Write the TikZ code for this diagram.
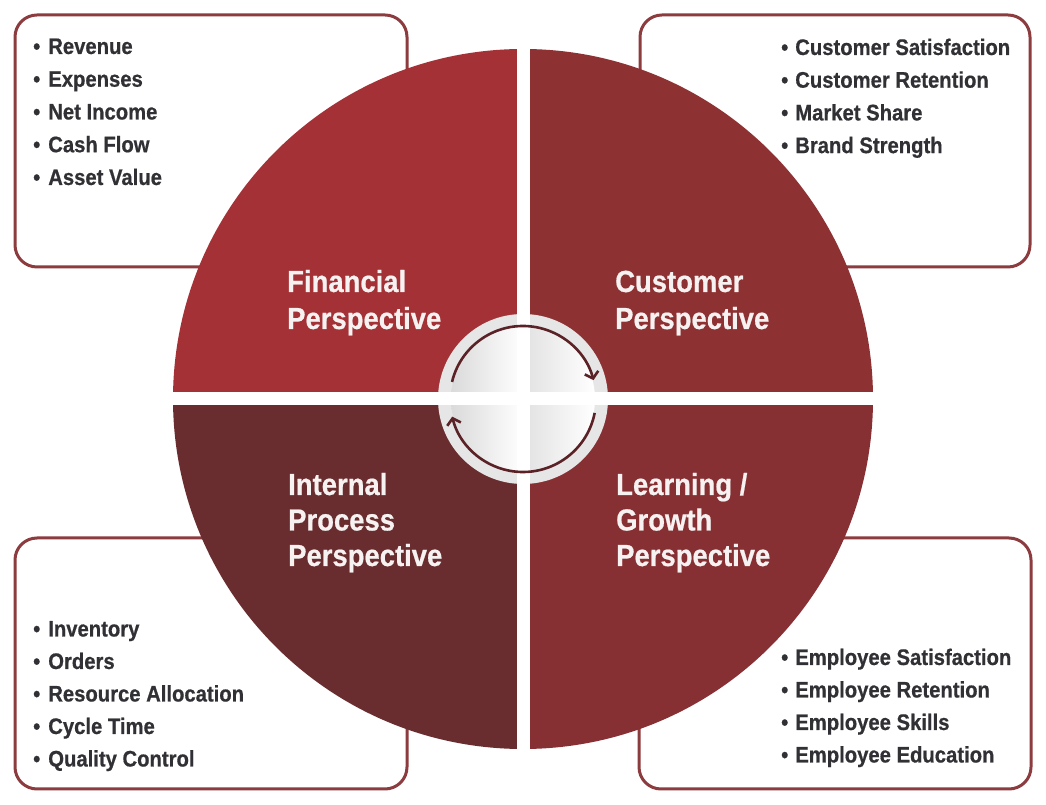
\documentclass[tikz,border=0pt]{standalone}
\usepackage{fontspec}
\newfontfamily\cf[FakeStretch=0.9,FakeBold=0.6]{Liberation Sans}
\usetikzlibrary{arrows.meta,calc}
\definecolor{qtl}{HTML}{A33136}
\definecolor{qtr}{HTML}{8E3133}
\definecolor{qbl}{HTML}{6A2D2F}
\definecolor{qbr}{HTML}{873033}
\definecolor{boxline}{HTML}{8C3B3E}
\definecolor{txt}{HTML}{303035}
\definecolor{arrowc}{HTML}{5A2226}
\definecolor{ring}{HTML}{E6E6E6}
\definecolor{discgrey}{HTML}{DADADA}
\definecolor{titlec}{HTML}{F7F2F2}
\begin{document}
\begin{tikzpicture}[x=1pt,y=1pt,
  infobox/.style={draw=boxline,line width=3pt,fill=white,rounded corners=22pt,inner sep=0pt},
  item/.style={anchor=base west,inner sep=0pt,text=txt,font=\cf\bfseries\fontsize{22.5}{27}\selectfont},
  ttl/.style={anchor=base west,inner sep=0pt,text=titlec,font=\cf\bfseries\fontsize{30.5}{36}\selectfont},
  cyc/.style={draw=arrowc,line width=2.6pt,-{Straight Barb[length=6pt,width=14pt]}}]
\useasboundingbox (0,0) rectangle (1046,805);
\fill[white] (0,0) rectangle (1046,805);
% boxes
\node[infobox,minimum width=392pt,minimum height=252pt] (bfin) at (211,664) {};
\node[infobox,minimum width=390pt,minimum height=252pt] (bcus) at (835,664) {};
\node[infobox,minimum width=392pt,minimum height=251pt] (bint) at (211,141.5) {};
\node[infobox,minimum width=392pt,minimum height=251pt] (blrn) at (835,141.5) {};
% circle
\coordinate (C) at (523,406);
\begin{scope}
  \clip (C) circle (350);
  \fill[qtl] (C) rectangle ++(-360,360);
  \fill[qtr] (C) rectangle ++(360,360);
  \fill[qbl] (C) rectangle ++(-360,-360);
  \fill[qbr] (C) rectangle ++(360,-360);
\end{scope}
% centre disc
\fill[ring] (C) circle (85);
\begin{scope}
  \clip (C) circle (72);
  \shade[left color=discgrey,right color=white] ($(C)+(-72,-72)$) rectangle ($(C)+(0,72)$);
  \shade[left color=discgrey!80,right color=white] ($(C)+(0,-72)$) rectangle ($(C)+(72,72)$);
\end{scope}
% white cross
\fill[white] ($(C)+(-6.5,-352)$) rectangle ($(C)+(6.5,352)$);
\fill[white] ($(C)+(-352,-6.5)$) rectangle ($(C)+(352,6.5)$);
% cycle arrows
\draw[cyc] ($(C)+(166.5:73)$) arc[start angle=166.5,end angle=15,radius=73];
\draw[cyc] ($(C)+(-11:73)$) arc[start angle=-11,end angle=-166,radius=73];
% titles
\node[ttl] (tfin1) at (287,513) {Financial};
\node[ttl] (tfin2) at (287,476) {Perspective};
\node[ttl] (tcus1) at (615,513) {Customer};
\node[ttl] (tcus2) at (615,476) {Perspective};
\node[ttl] (tint1) at (288,310) {Internal};
\node[ttl] (tint2) at (288,274.5) {Process};
\node[ttl] (tint3) at (288,239) {Perspective};
\node[ttl] (tlrn1) at (616,310) {Learning /};
\node[ttl] (tlrn2) at (616,274.5) {Growth};
\node[ttl] (tlrn3) at (616,239) {Perspective};
% lists
\foreach \t [count=\i] in {Revenue,Expenses,Net Income,Cash Flow,Asset Value}
  \node[item] (fin\i) at (33,{751-32.75*(\i-1)}) {•\hspace{8pt}\t};
\foreach \t [count=\i] in {Customer Satisfaction,Customer Retention,Market Share,Brand Strength}
  \node[item] (cus\i) at (781,{750-32.7*(\i-1)}) {•\hspace{7pt}\t};
\foreach \t [count=\i] in {Inventory,Orders,Resource Allocation,Cycle Time,Quality Control}
  \node[item] (int\i) at (33,{168.5-32.5*(\i-1)}) {•\hspace{8pt}\t};
\foreach \t [count=\i] in {Employee Satisfaction,Employee Retention,Employee Skills,Employee Education}
  \node[item] (lrn\i) at (781,{140-32.5*(\i-1)}) {•\hspace{7pt}\t};
\end{tikzpicture}
\end{document}
